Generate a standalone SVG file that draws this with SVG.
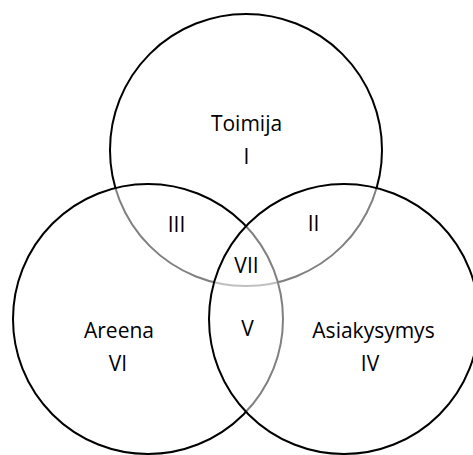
<svg xmlns="http://www.w3.org/2000/svg" width="473" height="455" viewBox="0 0 473 455">
<style>
.c{fill:#ffffff;fill-opacity:0.5;stroke:#000;stroke-width:2}
.t{font-family:"Open Sans","Noto Sans",sans-serif;font-size:21px;fill:#000;text-anchor:middle}
</style>
<rect width="473" height="455" fill="#fff"/>
<g id="toimija">
<circle class="c" cx="246" cy="150" r="136"/>
<text class="t" x="246.5" y="131">Toimija</text>
<text class="t" x="246.5" y="164">I</text>
</g>
<g id="areena">
<circle class="c" cx="148" cy="319" r="135"/>
<text class="t" x="119" y="338">Areena</text>
<text class="t" x="118" y="371">VI</text>
</g>
<g id="asiakysymys">
<circle class="c" cx="344" cy="319" r="135"/>
<text class="t" x="373.5" y="338">Asiakysymys</text>
<text class="t" x="370" y="371">IV</text>
</g>
<g id="regions">
<text class="t" x="176.5" y="232">III</text>
<text class="t" x="313.5" y="231">II</text>
<text class="t" x="246.5" y="273">VII</text>
<text class="t" x="247.5" y="336">V</text>
</g>
</svg>
